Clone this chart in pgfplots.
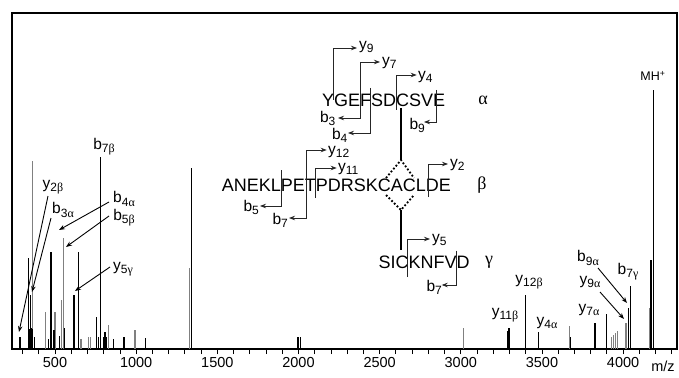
\documentclass[border=0pt]{standalone}
\usepackage{pgfplots}
\pgfplotsset{compat=1.18}
\usepackage{fontspec}
\setmainfont{Liberation Sans}
\newfontfamily\grk{Liberation Serif}
\usetikzlibrary{arrows.meta}
\newcommand{\sub}[1]{\raisebox{-0.4ex}{\fontsize{12}{12}\selectfont #1}}
\newcommand{\ion}[3]{{\fontsize{15.5}{15.5}\selectfont #1\sub{#2{\grk #3}}}}
\definecolor{pkgray}{HTML}{808080}
\begin{document}
\begin{tikzpicture}
\path[use as bounding box] (0,0) rectangle (679pt,-377pt);
\begin{axis}[at={(12pt,-349pt)}, anchor=south west, scale only axis,
  width=665pt, height=336pt,
  xmin=235, xmax=4332, ymin=0, ymax=100,
  xtick={500,1000,...,4000}, minor xtick={300,400,...,4300},
  ytick=\empty, tick align=outside, major tick length=5pt, minor tick length=5pt,
  xtick pos=bottom, tick style={black, line width=0.8pt},
  axis line style={line width=1.1pt},
  tick label style={font=\fontsize{14.5}{14.5}\selectfont},
  /pgf/number format/assume math mode=true,
  /pgf/number format/1000 sep={},
  clip=false]
% gray peaks
\addplot[ycomb, pkgray, line width=1.1pt, mark=none] coordinates {
(364,56) (440,11) (500,11) (539,14.6) (551,33) (660,3) (705,3.5) (719,3.5)
(828,7) (993,5.6) (1328,24) (3016,6.2) (3930,3.5) (3943,4.3) (3955,4.7)
(3968,5.3) (4018,7.6) (4160,12.3) (3670,6.8)
};
% black peaks
\addplot[ycomb, black, line width=1.1pt, mark=none] coordinates {
(284,3.6) (334,27) (345,6) (350,16) (356,6.2) (360,6) (372,3.6) (458,3)
(475,29) (494,5.6) (525,3) (530,4) (557,6.2) (617,16) (644,29) (757,9.5)
(767,3.5) (783,57) (797,3.5) (808,5) (815,3.5) (862,3) (925,3.5) (1060,3.3)
(1342,54) (1997,3.6) (2012,3.6) (3290,5.5) (3297,6.2) (3396,16.2) (3400,4)
(3478,5) (3677,3.5) (3827,7.8) (3895,10.3) (3900,3.3) (4033,12.3) (4047,18.8)
(4166,5) (4169,12) (4172,26.5) (4186,77)
};
\end{axis}
\begin{scope}[x=1pt, y=-1pt, >={Stealth[length=6pt,width=4.5pt]}]
% left labels
\tikzset{arr/.style={->, line width=0.9pt}}
\node at (53,187) {\ion{y}{2}{β}};
\draw[arr] (48,196) -- (19,332);
\node at (63,210) {\ion{b}{3}{α}};
\draw[arr] (51,218) -- (32,292);
\node at (124,199) {\ion{b}{4}{α}};
\draw[arr] (109,202) -- (59,230);
\node at (124,218) {\ion{b}{5}{β}};
\draw[arr] (109,216) -- (66,247);
\node at (123,269) {\ion{y}{5}{γ}};
\draw[arr] (110,267) -- (75,291);
\node at (104,147) {\ion{b}{7}{β}};
% right labels
\node at (505,315) {\ion{y}{11}{β}};
\node at (529,282) {\ion{y}{12}{β}};
\node at (547,323) {\ion{y}{4}{α}};
\node at (589,310) {\ion{y}{7}{α}};
\node at (588,258) {\ion{b}{9}{α}};
\draw[arr] (598,268) -- (627,303);
\node at (590,282) {\ion{y}{9}{α}};
\draw[arr] (600,292) -- (624,319);
\node at (628,272) {\ion{b}{7}{γ}};
\node at (653,76) {\fontsize{12.5}{12.5}\selectfont MH\textsuperscript{+}};
\node at (663,366) {\fontsize{14.5}{14.5}\selectfont m/z};
% peptide sequences
\node[anchor=base west, inner sep=0pt] at (322,106.5) {\fontsize{18}{18}\selectfont YGEFSDCSVE};
\node[anchor=base west, inner sep=0pt] at (221.7,191.5) {\fontsize{18}{18}\selectfont ANEKLPETPDRSKCACLDE};
\node[anchor=base west, inner sep=0pt] at (378.3,268) {\fontsize{18}{18}\selectfont SICKNFVD};
\node at (483,100) {\fontsize{18}{18}\selectfont\grk α};
\node at (482,185) {\fontsize{18}{18}\selectfont\grk β};
\node at (489,262) {\fontsize{18}{18}\selectfont\grk γ};
% fragment markers alpha
\tikzset{frag/.style={line width=0.8pt, black!85}}
\draw[frag,->] (333.3,100) -- (333.3,48) -- (357,48);
\node[anchor=west, inner sep=1pt] at (358,47) {\ion{y}{9}{}};
\draw[frag,<->] (338,118) -- (360,118) -- (360,62) -- (380,62);
\node[anchor=west, inner sep=1pt] at (381,63) {\ion{y}{7}{}};
\node[anchor=base east, inner sep=0.5pt] at (336,122.5) {\ion{b}{3}{}};
\draw[frag,->] (370,88) -- (370,133) -- (348,133);
\node[anchor=base east, inner sep=0.5pt] at (348,139.5) {\ion{b}{4}{}};
\draw[frag,->] (396.7,110) -- (396.7,75) -- (416.7,75);
\node[anchor=west, inner sep=1pt] at (417,77) {\ion{y}{4}{}};
\draw[frag,->] (436,90) -- (436,122) -- (424,122);
\node[anchor=base east, inner sep=1pt] at (426,129) {\ion{b}{9}{}};
% beta
\draw[frag,<->] (289,218) -- (306,218) -- (306,150) -- (326.7,150);
\node[anchor=west, inner sep=1pt] at (327,152) {\ion{y}{12}{}};
\node[anchor=base east, inner sep=1pt] at (289,224) {\ion{b}{7}{}};
\draw[frag,->] (315.7,198) -- (315.7,168) -- (336.7,168);
\node[anchor=west, inner sep=1pt] at (337,169) {\ion{y}{11}{}};
\draw[frag,->] (281,170) -- (281,206) -- (260,206);
\node[anchor=base east, inner sep=1pt] at (260,211) {\ion{b}{5}{}};
\draw[frag,->] (428,197) -- (428,164) -- (448,164);
\node[anchor=west, inner sep=1pt] at (449,165) {\ion{y}{2}{}};
% gamma
\draw[frag,->] (407.3,277) -- (407.3,239) -- (430,239);
\node[anchor=west, inner sep=1pt] at (431,240) {\ion{y}{5}{}};
\draw[frag,->] (456,250.7) -- (456,285) -- (441.7,285);
\node[anchor=base east, inner sep=1pt] at (443,291) {\ion{b}{7}{}};
% disulfide bonds
\draw[line width=2pt] (401,108) -- (401,160);
\draw[line width=1.8pt, dotted] (386,178) -- (401,160) -- (414,178);
\draw[line width=1.8pt, dotted] (386,195) -- (401,210) -- (414,195);
\draw[line width=2pt] (401,210) -- (401,250);
\end{scope}
\end{tikzpicture}
\end{document}
